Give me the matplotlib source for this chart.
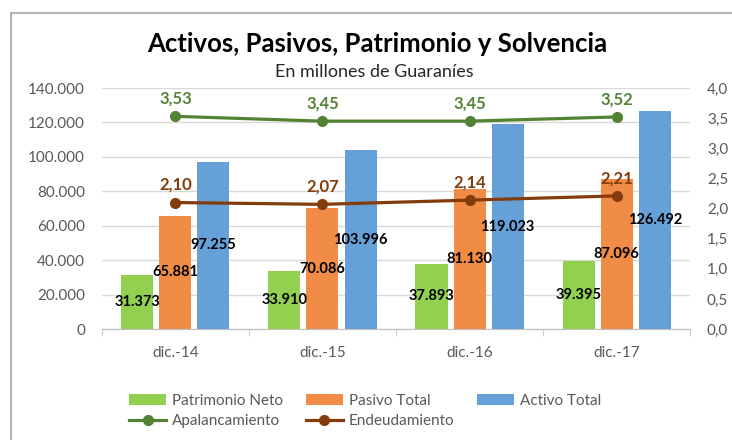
import matplotlib
matplotlib.use('Agg')
import matplotlib.pyplot as plt
import numpy as np
from matplotlib.patches import Rectangle

plt.rcParams['font.family'] = ['Lato', 'DejaVu Sans']

categorias = ['dic.-14', 'dic.-15', 'dic.-16', 'dic.-17']
patrimonio = [31373, 33910, 37893, 39395]
pasivo = [65881, 70086, 81130, 87096]
activo = [97255, 103996, 119023, 126492]
apalancamiento = [3.53, 3.45, 3.45, 3.52]
endeudamiento = [2.10, 2.07, 2.14, 2.21]

c_verde = '#92D050'
c_naranja = '#F08C46'
c_azul = '#65A0D8'
c_apal = '#548235'
c_end = '#843C0C'
gris = '#595959'

def miles(v):
    return f'{v:,.0f}'.replace(',', '.')

fig, ax = plt.subplots(figsize=(7.32, 4.4), dpi=100)
fig.subplots_adjust(left=0.139, right=0.943, top=0.80, bottom=0.252)

x = np.arange(len(categorias))
w = 0.218
paso = 0.259

b1 = ax.bar(x - paso, patrimonio, w, color=c_verde, label='Patrimonio Neto')
b2 = ax.bar(x, pasivo, w, color=c_naranja, label='Pasivo Total')
b3 = ax.bar(x + paso, activo, w, color=c_azul, label='Activo Total')

for b, vals in [(b1, patrimonio), (b2, pasivo), (b3, activo)]:
    ax.bar_label(b, labels=[miles(v) for v in vals], label_type='center',
                 fontsize=10.5, fontweight='bold', color='black')

ax.set_ylim(0, 140000)
ax.set_yticks(np.arange(0, 140001, 20000))
ax.set_yticklabels([miles(v) for v in np.arange(0, 140001, 20000)])
ax.set_xlim(-0.5, len(categorias) - 0.5)
ax.set_xticks(x)
ax.set_xticklabels(categorias)
ax.set_xticks(np.arange(-0.5, len(categorias)), minor=True)
ax.tick_params(axis='x', which='major', length=0, pad=12, labelsize=11, labelcolor=gris)
ax.tick_params(axis='x', which='minor', length=5, color='#BFBFBF', direction='out')
ax.tick_params(axis='y', length=0, pad=12, labelsize=11, labelcolor=gris)
ax.grid(axis='y', color='#D9D9D9', lw=1)
ax.set_axisbelow(True)
for s in ['top', 'left', 'right']:
    ax.spines[s].set_visible(False)
ax.spines['bottom'].set_color('#BFBFBF')

ax2 = ax.twinx()
l1, = ax2.plot(x, apalancamiento, color=c_apal, lw=2.3, marker='o', ms=7, label='Apalancamiento')
l2, = ax2.plot(x, endeudamiento, color=c_end, lw=2.3, marker='o', ms=7, label='Endeudamiento')
for vals, c in [(apalancamiento, c_apal), (endeudamiento, c_end)]:
    for xi, v in zip(x, vals):
        ax2.annotate(f'{v:.2f}'.replace('.', ','), (xi, v), xytext=(0, 7),
                     textcoords='offset points', ha='center', va='bottom',
                     fontsize=12, fontweight='bold', color=c)
ax2.set_ylim(0, 4)
ax2.set_yticks(np.arange(0, 4.01, 0.5))
ax2.set_yticklabels([f'{v:.1f}'.replace('.', ',') for v in np.arange(0, 4.01, 0.5)])
ax2.tick_params(axis='y', length=0, pad=12, labelsize=11, labelcolor=gris)
for s in ['top', 'left', 'right', 'bottom']:
    ax2.spines[s].set_visible(False)

fig.text(0.515, 0.90, 'Activos, Pasivos, Patrimonio y Solvencia', ha='center', va='center',
         fontsize=18.5, fontweight='bold', color='black')
fig.text(0.512, 0.836, 'En millones de Guaraníes', ha='center', va='center',
         fontsize=13, color='#262626')

fig.legend([b1, l1, b2, l2, b3],
           ['Patrimonio Neto', 'Apalancamiento', 'Pasivo Total', 'Endeudamiento', 'Activo Total'],
           ncol=3, loc='center', bbox_to_anchor=(0.499, 0.066), frameon=False,
           fontsize=11, labelcolor=gris, handlelength=2.4, handletextpad=0.4,
           columnspacing=1.5, labelspacing=0.45)

fig.patches.append(Rectangle((11 / 732, -0.1), 1.1, 1.1 - 13 / 440, transform=fig.transFigure,
                             fill=False, edgecolor='#B4B4B4', lw=1.5))

fig.savefig('out.png', dpi=100)
